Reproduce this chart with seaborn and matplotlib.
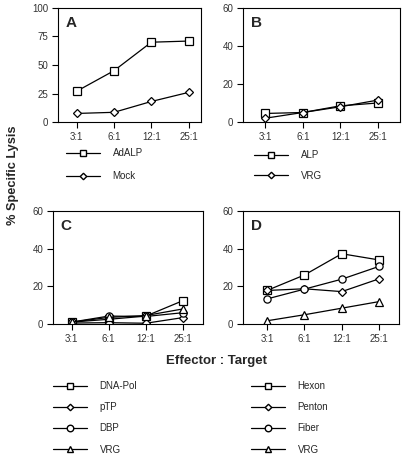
import pandas as pd
import seaborn as sns
import matplotlib.pyplot as plt
import matplotlib.lines as mlines

# effector : target ratios
ratios = ['3:1', '6:1', '12:1', '25:1']

# panel A
a_adalp = [27, 45, 70, 71]
a_mock = [7.5, 8.5, 18, 26]

# panel B
b_alp = [4.5, 5, 8.5, 10]
b_vrg = [2, 5, 8, 11.5]

# panel C
c_dnapol = [1, 2.5, 4.2, 12.4]
c_ptp = [0.5, 0.7, 0.4, 3.4]
c_dbp = [1, 4.2, 4, 6]
c_vrg = [1, 3.5, 4.5, 8]

# panel D
d_hexon = [17.8, 26, 37.3, 34]
d_penton = [17.8, 18.7, 17.2, 24]
d_fiber = [13.3, 18.5, 23.8, 30.6]
d_vrg = [1.7, 4.9, 8.4, 11.9]

panels = {
    'A': {'AdALP': (a_adalp, 's'), 'Mock': (a_mock, 'D')},
    'B': {'ALP': (b_alp, 's'), 'VRG': (b_vrg, 'D')},
    'C': {'DNA-Pol': (c_dnapol, 's'), 'pTP': (c_ptp, 'D'),
          'DBP': (c_dbp, 'o'), 'VRG': (c_vrg, '^')},
    'D': {'Hexon': (d_hexon, 's'), 'Penton': (d_penton, 'D'),
          'Fiber': (d_fiber, 'o'), 'VRG': (d_vrg, '^')},
}

# marker sizes (diamonds are drawn smaller in the original)
msize = {'s': 5.5, 'D': 3.8, 'o': 5.2, '^': 5.2}

sns.set_style('ticks')
plt.rcParams['font.family'] = ['Liberation Sans', 'DejaVu Sans']

W, H = 406, 459
fig = plt.figure(figsize=(W / 100, H / 100), dpi=100)

# axes boxes in pixels: left, top, right, bottom
boxes = {'A': (58, 8, 201, 122), 'B': (243, 8, 400, 122),
         'C': (53, 211, 203, 324), 'D': (243, 211, 399, 324)}
ylims = {'A': (0, 100), 'B': (0, 60), 'C': (0, 60), 'D': (0, 60)}
yticks = {'A': [0, 25, 50, 75, 100], 'B': [0, 20, 40, 60],
          'C': [0, 20, 40, 60], 'D': [0, 20, 40, 60]}
xlims = {'A': (-0.5, 3.33), 'B': (-0.6, 3.6), 'C': (-0.5, 3.54), 'D': (-0.64, 3.53)}
# legend anchors (px): x of handle start, top y, spacing
legpos = {'A': (66, 148, 1.35), 'B': (254, 150, 1.1),
          'C': (53, 381, 1.15), 'D': (251, 381, 1.15)}

for key, series in panels.items():
    l, t, r, b = boxes[key]
    ax = fig.add_axes([l / W, 1 - b / H, (r - l) / W, (b - t) / H])
    rows = []
    for name, (vals, m) in series.items():
        for x, v in zip(ratios, vals):
            rows.append({'ratio': x, 'lysis': v, 'name': name})
    df = pd.DataFrame(rows)
    markers = {name: m for name, (vals, m) in series.items()}
    sns.lineplot(data=df, x='ratio', y='lysis', style='name', markers=markers,
                 dashes=False, color='black', linewidth=0.9, markersize=5.5,
                 markerfacecolor='white', markeredgecolor='black',
                 markeredgewidth=0.9, legend=False, ax=ax, sort=False)
    for ln in ax.lines:
        mk = ln.get_marker()
        if mk in msize:
            ln.set_markersize(msize[mk])
    ax.set_xlim(*xlims[key])
    ax.set_ylim(*ylims[key])
    ax.set_yticks(yticks[key])
    ax.set_xlabel('')
    ax.set_ylabel('')
    ax.tick_params(labelsize=7, length=4, width=0.8, colors='black',
                   labelcolor='#333333', pad=3)
    for s in ax.spines.values():
        s.set_linewidth(0.8)
        s.set_color('black')
    ax.text(0.05, 0.93, key, transform=ax.transAxes, fontsize=11,
            fontweight='bold', ha='left', va='top')

    handles = [mlines.Line2D([], [], color='black', linewidth=0.9, marker=m,
                             markersize=msize[m] - 0.5, markerfacecolor='white',
                             markeredgecolor='black', label=name)
               for name, (vals, m) in series.items()]
    lx, ly, sp = legpos[key]
    fig.legend(handles=handles, loc='upper left',
               bbox_to_anchor=(lx / W, 1 - ly / H), frameon=False,
               fontsize=7, handlelength=3.5, handletextpad=1.3,
               labelspacing=sp, borderpad=0, borderaxespad=0)

fig.text(13 / W, 1 - 175 / H, '% Specific Lysis', rotation=90, ha='center',
         va='center', fontsize=9.2, fontweight='bold')
fig.text(217 / W, 1 - 361 / H, 'Effector : Target', ha='center', va='center',
         fontsize=9.5, fontweight='bold')

fig.savefig('out.png', dpi=100)
